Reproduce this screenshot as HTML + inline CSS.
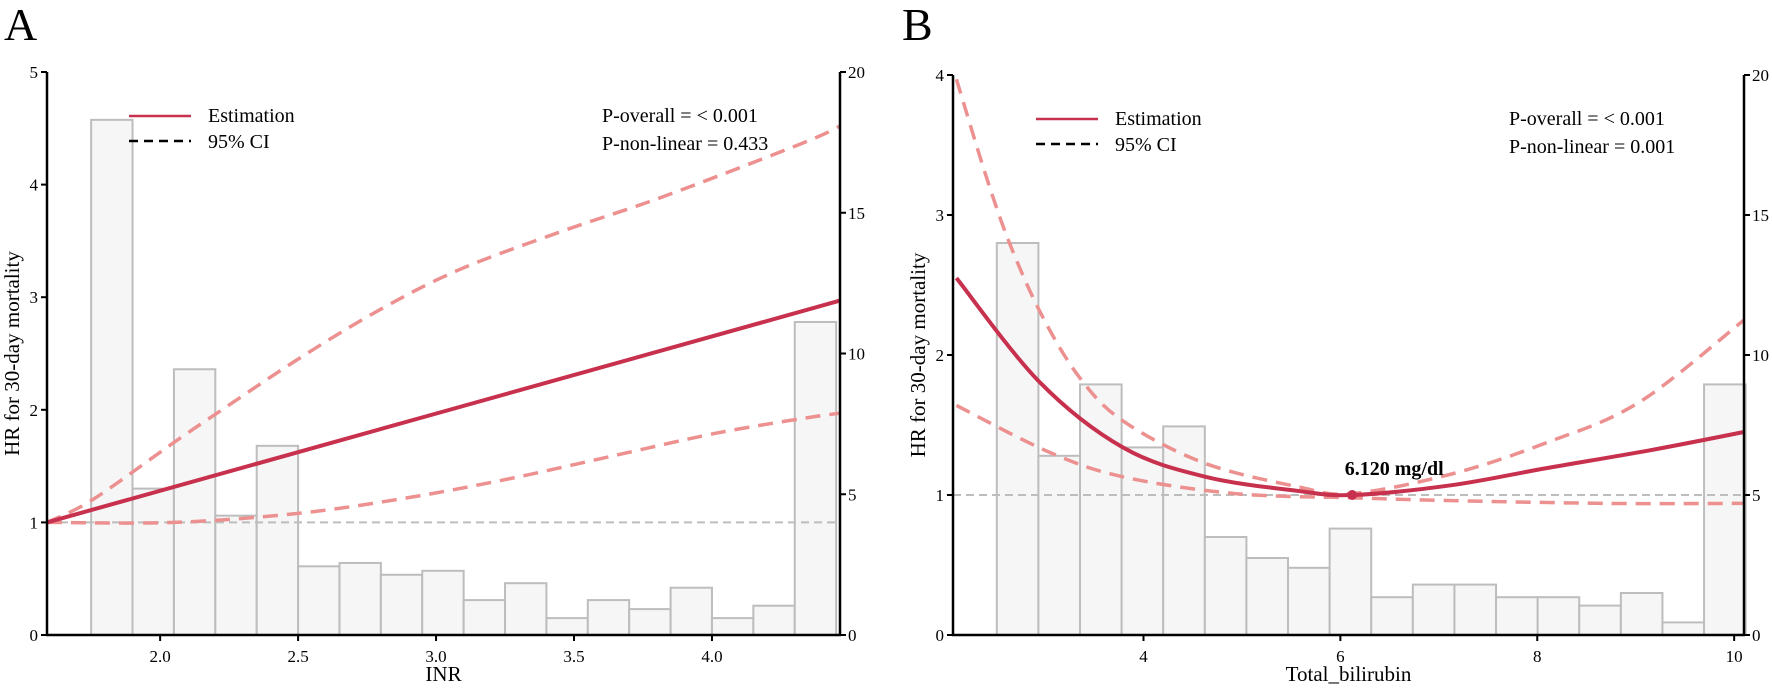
<!DOCTYPE html>
<html><head><meta charset="utf-8"><style>
body{margin:0;background:#fff}
svg{display:block;font-family:"Liberation Serif",serif}
</style></head><body>
<svg id="c" width="1772" height="688" viewBox="0 0 1772 688"></svg>
<script>
// Panel A data (INR)
const aBinStart = 1.75, aBinWidth = 0.15;
const aCounts = [18.3, 5.2, 9.44, 4.24, 6.72, 2.44, 2.56, 2.14, 2.28, 1.24, 1.84, 0.6, 1.24, 0.92, 1.68, 0.6, 1.04, 11.12];
const aEstX = [1.59, 4.464];
const aEstY = [1.0, 2.97];
const aUpX = [1.59, 1.754, 2.05, 2.20, 2.50, 2.79, 3.08, 3.45, 3.82, 4.32, 4.464];
const aUpY = [1.0, 1.2, 1.71, 1.96, 2.45, 2.88, 3.24, 3.58, 3.89, 4.36, 4.52];
const aLoX = [1.59, 2.05, 2.50, 2.90, 3.27, 3.64, 4.01, 4.32, 4.464];
const aLoY = [1.0, 1.0, 1.08, 1.22, 1.39, 1.59, 1.79, 1.92, 1.97];
const aXTicks = ["2.0","2.5","3.0","3.5","4.0"];
const aYTicks = [0,1,2,3,4,5];
const aY2Ticks = [0,5,10,15,20];
// Panel B data (Total bilirubin)
const bBinStart = 2.51, bBinWidth = 0.4226;
const bCounts = [14.0, 6.4, 8.95, 6.7, 7.45, 3.5, 2.75, 2.4, 3.8, 1.35, 1.8, 1.8, 1.35, 1.35, 1.05, 1.5, 0.45, 8.95];
const bEstX = [2.10, 2.94, 3.79, 4.63, 5.56, 6.12, 7.13, 8.08, 9.15, 10.1];
const bEstY = [2.55, 1.81, 1.34, 1.13, 1.03, 1.0, 1.07, 1.19, 1.32, 1.45];
const bUpX = [2.10, 2.40, 2.65, 2.97, 3.35, 3.79, 4.61, 5.56, 6.12, 7.13, 8.08, 9.03, 10.1];
const bUpY = [3.97, 3.28, 2.78, 2.28, 1.84, 1.53, 1.23, 1.06, 1.01, 1.15, 1.37, 1.66, 2.25];
const bLoX = [2.10, 3.03, 3.79, 4.93, 6.12, 7.13, 8.71, 10.1];
const bLoY = [1.64, 1.31, 1.13, 1.01, 0.98, 0.96, 0.94, 0.94];
const bXTicks = [4,6,8,10];
const bYTicks = [0,1,2,3,4];
const bY2Ticks = [0,5,10,15,20];
const bMinX = 6.12, bMinY = 1.0;

const NS="http://www.w3.org/2000/svg";
const svg=document.getElementById('c');
function mk(tag,attrs,parent){const e=document.createElementNS(NS,tag);for(const k in attrs)e.setAttribute(k,attrs[k]);(parent||svg).appendChild(e);return e;}
function txt(s,attrs,parent){const e=mk('text',attrs,parent);e.textContent=s;return e;}
function smooth(pts){let d='M'+pts[0][0]+','+pts[0][1];for(let i=0;i<pts.length-1;i++){const p0=pts[i-1]||pts[i],p1=pts[i],p2=pts[i+1],p3=pts[i+2]||p2;const c1x=p1[0]+(p2[0]-p0[0])/6,c1y=p1[1]+(p2[1]-p0[1])/6,c2x=p2[0]-(p3[0]-p1[0])/6,c2y=p2[1]-(p3[1]-p1[1])/6;d+=' C'+c1x+','+c1y+' '+c2x+','+c2y+' '+p2[0]+','+p2[1];}return d;}

function panel(cfg){
  const g=mk('g',{});
  
  
  const sx=v=>cfg.L+(v-cfg.x0)/(cfg.x1-cfg.x0)*(cfg.R-cfg.L);
  const sy=v=>cfg.B-(v-0)/cfg.yMax*(cfg.B-cfg.T);
  const sy2=v=>cfg.B-v/cfg.y2Max*(cfg.B-cfg.T);
  cfg.counts.forEach((c,i)=>{
    const xa=sx(cfg.binStart+i*cfg.binWidth), xb=sx(cfg.binStart+(i+1)*cfg.binWidth);
    const r=mk('rect',{x:xa,y:sy2(c),width:xb-xa,height:cfg.B-sy2(c),fill:'#f6f6f6',stroke:'#bdbdbd','stroke-width':2},g);
    
    
  });
  const ref=mk('line',{x1:cfg.L,x2:cfg.R,y1:sy(1),y2:sy(1),stroke:'#bdbdbd','stroke-width':2,'stroke-dasharray':'8,5'},g);
  
  
  [[cfg.upX,cfg.upY,'ci-upper'],[cfg.loX,cfg.loY,'ci-lower']].forEach(([X,Y,n])=>{
    const p=mk('path',{d:smooth(X.map((x,i)=>[sx(x),sy(Y[i])])),fill:'none',stroke:'#ec9090','stroke-width':3.5,'stroke-dasharray':'15,9'},g);
    
    
  });
  const est=mk('path',{d:smooth(cfg.estX.map((x,i)=>[sx(x),sy(cfg.estY[i])])),fill:'none',stroke:'#c8314e','stroke-width':4},g);
  
  
  mk('line',{x1:cfg.L,x2:cfg.L,y1:cfg.T,y2:cfg.B+1,stroke:'#000','stroke-width':2.5},g);
  mk('line',{x1:cfg.R,x2:cfg.R,y1:cfg.T,y2:cfg.B+1,stroke:'#000','stroke-width':2.5},g);
  mk('line',{x1:cfg.L-1,x2:cfg.R+1,y1:cfg.B,y2:cfg.B,stroke:'#000','stroke-width':2.5},g);
  cfg.yTicks.forEach(t=>{const y=sy(t);mk('line',{x1:cfg.L-6,x2:cfg.L,y1:y,y2:y,stroke:'#000','stroke-width':2},g);
    const e=txt(String(t),{x:cfg.L-9,y:y+6,'font-size':17,'text-anchor':'end'},g);});
  cfg.y2Ticks.forEach(t=>{const y=sy2(t);mk('line',{x1:cfg.R,x2:cfg.R+6,y1:y,y2:y,stroke:'#000','stroke-width':2},g);
    const e=txt(String(t),{x:cfg.R+8,y:y+6,'font-size':17},g);});
  cfg.xTicks.forEach(t=>{const x=sx(parseFloat(t));mk('line',{x1:x,x2:x,y1:cfg.B,y2:cfg.B+6,stroke:'#000','stroke-width':2},g);
    const e=txt(String(t),{x:x,y:cfg.B+27,'font-size':17,'text-anchor':'middle'},g);});
  let e=txt(cfg.xTitle,{x:(cfg.L+cfg.R)/2,y:681,'font-size':21,'text-anchor':'middle'},g);
  e=txt('HR for 30-day mortality',{x:0,y:0,'font-size':21,'text-anchor':'middle',transform:`translate(${cfg.L-28},${(cfg.T+cfg.B)/2}) rotate(-90)`},g);
  e=txt(cfg.letter,{x:cfg.letterX,y:40,'font-size':46},g);
  const lg=mk('g',{},g);
  mk('line',{x1:cfg.legX,x2:cfg.legX+62,y1:cfg.legY,y2:cfg.legY,stroke:'#c8314e','stroke-width':2.5},lg);
  txt('Estimation',{x:cfg.legX+79,y:cfg.legY+6,'font-size':20},lg);
  mk('line',{x1:cfg.legX,x2:cfg.legX+62,y1:cfg.legY+25,y2:cfg.legY+25,stroke:'#000','stroke-width':2.5,'stroke-dasharray':'9,6'},lg);
  txt('95% CI',{x:cfg.legX+79,y:cfg.legY+32,'font-size':20},lg);
  e=txt('P-overall = < 0.001',{x:cfg.pX,y:cfg.legY+6,'font-size':20},g);
  e=txt('P-non-linear = '+cfg.pnl,{x:cfg.pX,y:cfg.legY+34,'font-size':20},g);
  return {sx,sy,g};
}
panel({name:'panel-a',L:47,R:840,T:72,B:635,x0:1.59,x1:4.464,yMax:5,y2Max:20,counts:aCounts,binStart:aBinStart,binWidth:aBinWidth,
  estX:aEstX,estY:aEstY,upX:aUpX,upY:aUpY,loX:aLoX,loY:aLoY,yTicks:aYTicks,y2Ticks:aY2Ticks,xTicks:aXTicks,xTitle:'INR',letter:'A',letterX:4,
  legX:129,legY:116,pX:602,pnl:'0.433'});
const pb=panel({name:'panel-b',L:953,R:1744,T:75,B:635,x0:2.065,x1:10.1,yMax:4,y2Max:20,counts:bCounts,binStart:bBinStart,binWidth:bBinWidth,
  estX:bEstX,estY:bEstY,upX:bUpX,upY:bUpY,loX:bLoX,loY:bLoY,yTicks:bYTicks,y2Ticks:bY2Ticks,xTicks:bXTicks,xTitle:'Total_bilirubin',letter:'B',letterX:902,
  legX:1036,legY:119,pX:1509,pnl:'0.001'});
const dot=mk('circle',{cx:pb.sx(bMinX),cy:pb.sy(bMinY),r:5,fill:'#c8314e'},pb.g);


const lab=txt('6.120 mg/dl',{x:pb.sx(bMinX)+42,y:pb.sy(bMinY)-20,'font-size':20,'font-weight':'bold','text-anchor':'middle'},pb.g);


</script>
</body></html>
